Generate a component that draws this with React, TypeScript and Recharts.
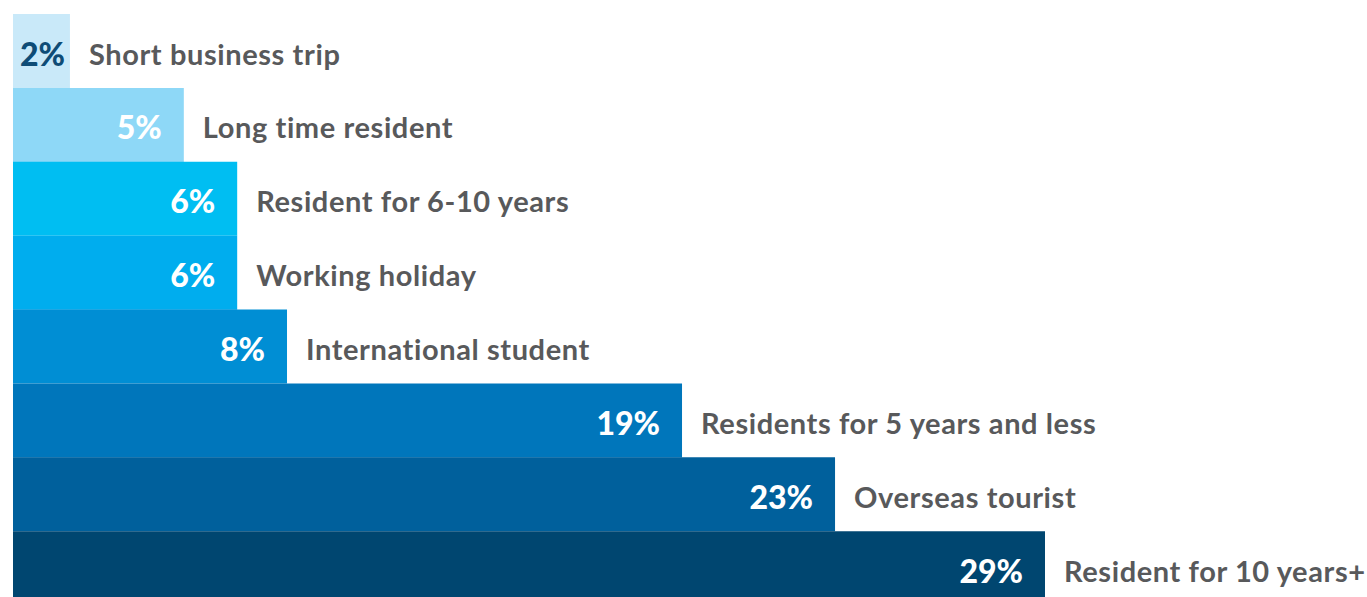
import { BarChart, Bar, XAxis, YAxis, Cell, LabelList } from 'recharts';

const categories = [
  'Short business trip',
  'Long time resident',
  'Resident for 6-10 years',
  'Working holiday',
  'International student',
  'Residents for 5 years and less',
  'Overseas tourist',
  'Resident for 10 years+',
];
const shares = [1.6, 4.8, 6.3, 6.3, 7.7, 18.8, 23.1, 29.0];
const shareLabels = ['2%', '5%', '6%', '6%', '8%', '19%', '23%', '29%'];
const barColors = ['#C9E9F9', '#8ED8F7', '#00BEF2', '#00ADEE', '#008ED4', '#0076BB', '#00609C', '#004670'];

const data = categories.map((name, i) => ({
  name,
  value: shares[i],
  label: shareLabels[i],
  color: barColors[i],
}));

const FONT = 'Lato, "Open Sans", sans-serif';

function PercentLabel(props: any) {
  const { x, y, width, height, index } = props;
  const d = data[index];
  const narrow = width < 80;
  return (
    <text
      x={narrow ? x + 7 : x + width - 22}
      y={y + height / 2 + 2}
      textAnchor={narrow ? 'start' : 'end'}
      dominantBaseline="central"
      fill={narrow ? '#0E4C76' : '#FFFFFF'}
      fontFamily={FONT}
      fontWeight={900}
      fontSize={32}
    >
      {d.label}
    </text>
  );
}

function NameLabel(props: any) {
  const { x, y, width, height, index } = props;
  return (
    <text
      x={x + width + 19}
      y={y + height / 2 + 2}
      textAnchor="start"
      dominantBaseline="central"
      fill="#58595B"
      fontFamily={FONT}
      fontWeight={700}
      fontSize={29}
      letterSpacing={0.6}
    >
      {data[index].name}
    </text>
  );
}

export default function App() {
  return (
    <div style={{ position: 'fixed', top: 0, left: 0, width: 1367, height: 605, background: '#fff' }}>
      <BarChart
        width={1367}
        height={605}
        data={data}
        layout="vertical"
        margin={{ top: 14, right: 322, bottom: 0, left: 13 }}
        barCategoryGap={0}
        style={{ overflow: 'visible' }}
      >
        <XAxis type="number" domain={[0, 'dataMax']} hide />
        <YAxis type="category" dataKey="name" hide />
        <Bar dataKey="value" isAnimationActive={false}>
          {data.map((d) => (
            <Cell key={d.name} fill={d.color} />
          ))}
          <LabelList dataKey="label" content={PercentLabel} />
          <LabelList dataKey="name" content={NameLabel} />
        </Bar>
      </BarChart>
    </div>
  );
}
